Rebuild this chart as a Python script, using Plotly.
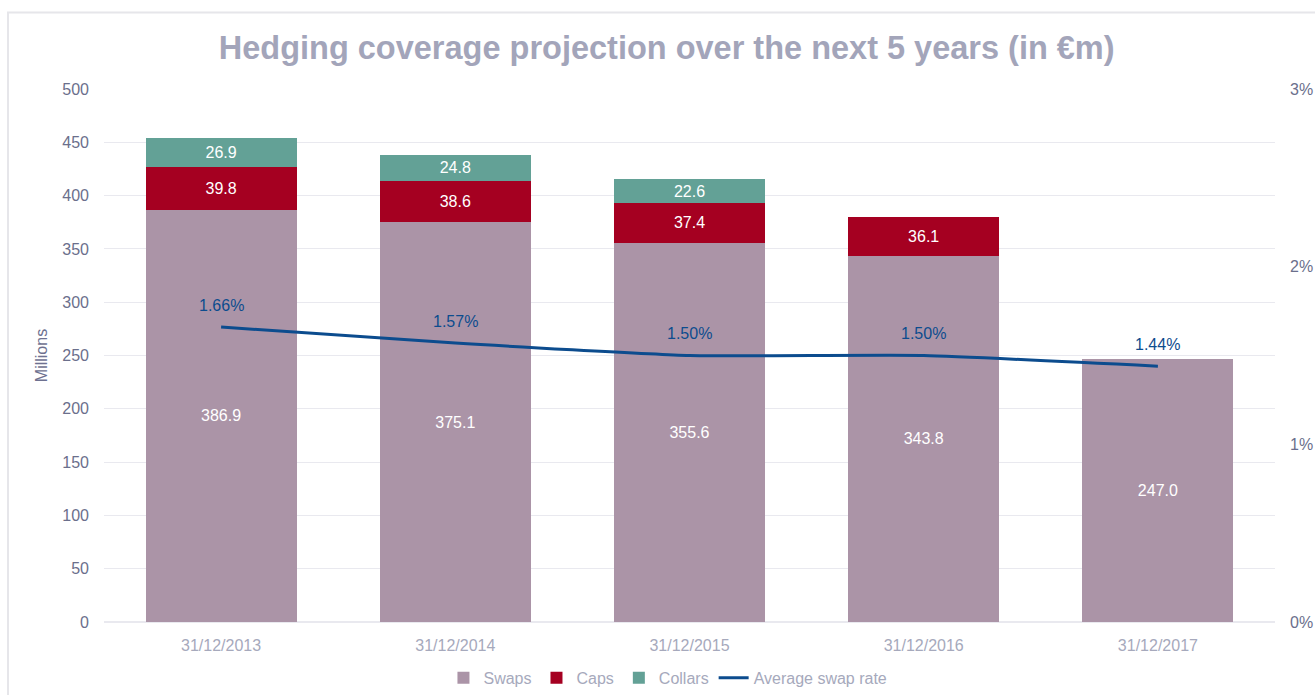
import plotly.graph_objects as go

# Reporting dates
categories = ["31/12/2013", "31/12/2014", "31/12/2015", "31/12/2016", "31/12/2017"]

# Hedged amounts in € millions
swaps = [386.9, 375.1, 355.6, 343.8, 247.0]
caps = [39.8, 38.6, 37.4, 36.1, None]
collars = [26.9, 24.8, 22.6, None, None]

# Average swap rate in %
avg_swap_rate = [1.66, 1.57, 1.50, 1.50, 1.44]

left_ticks = list(range(0, 501, 50))
right_ticks = [0, 1, 2, 3]
right_tick_labels = ["0%", "1%", "2%", "3%"]

FONT = "Liberation Sans"
SWAP_C = "#ab94a7"
CAP_C = "#a50021"
COLLAR_C = "#63a196"
LINE_C = "#0c4c8e"
GRID_C = "#e9e9ef"


def fmt(vals):
    return ["" if v is None else f"{v:.1f}" for v in vals]


fig = go.Figure()

for name, vals, color in [("Swaps", swaps, SWAP_C), ("Caps", caps, CAP_C), ("Collars", collars, COLLAR_C)]:
    fig.add_trace(go.Bar(
        x=categories, y=vals, name=name,
        marker=dict(color=color, line=dict(width=0)),
        text=fmt(vals), textposition="inside", insidetextanchor="middle",
        textfont=dict(color="white", size=16, family=FONT),
        textangle=0, constraintext="none",
    ))

fig.add_trace(go.Scatter(
    x=categories, y=avg_swap_rate, name="Average swap rate", yaxis="y2",
    mode="lines", line=dict(color=LINE_C, width=3, shape="spline", smoothing=0.45),
))

for c, v in zip(categories, avg_swap_rate):
    fig.add_annotation(
        x=c, y=v, xref="x", yref="y2", text=f"{v:.2f}%", showarrow=False,
        yshift=22, font=dict(color=LINE_C, size=16, family=FONT),
    )

# light frame around the chart
fig.add_shape(type="rect", xref="paper", yref="paper",
              x0=-0.082, x1=1.2, y0=-0.3, y1=1.1435,
              line=dict(color="#e6e6ea", width=2), fillcolor="rgba(0,0,0,0)", layer="below")

fig.update_layout(
    width=1315, height=695,
    margin=dict(l=104, r=40, t=89, b=73, autoexpand=False),
    paper_bgcolor="white", plot_bgcolor="white",
    barmode="stack", bargap=0.355,
    title=dict(text="<b>Hedging coverage projection over the next 5 years (in €m)</b>",
               x=0.507, xanchor="center", y=0.932, yanchor="middle",
               font=dict(family=FONT, size=32.5, color="#a3a5ba")),
    font=dict(family=FONT),
    xaxis=dict(tickfont=dict(size=16, color="#a6a9bc"), showgrid=False, ticks="",
               showline=False, automargin=False, ticklabelstandoff=12),
    yaxis=dict(range=[0, 500], tickvals=left_ticks, tickfont=dict(size=16, color="#6b6f8c"),
               gridcolor=GRID_C, gridwidth=1, zeroline=True, zerolinecolor=GRID_C,
               ticks="", ticklabelstandoff=14, automargin=False,
               title=dict(text="Millions", font=dict(size=16, color="#6e7190"), standoff=10)),
    yaxis2=dict(range=[0, 3], overlaying="y", side="right", tickvals=right_ticks,
                ticktext=right_tick_labels, showgrid=False, zeroline=False,
                tickfont=dict(size=16, color="#6b6f8c"), ticks="", ticklabelstandoff=14,
                automargin=False),
    legend=dict(orientation="h", x=0.4816, xanchor="center", y=-0.105, yanchor="middle",
                font=dict(size=16, color="#a6a9bc"), traceorder="normal",
                itemwidth=30, itemclick=False),
    showlegend=True,
)

fig.write_html("out.html")
